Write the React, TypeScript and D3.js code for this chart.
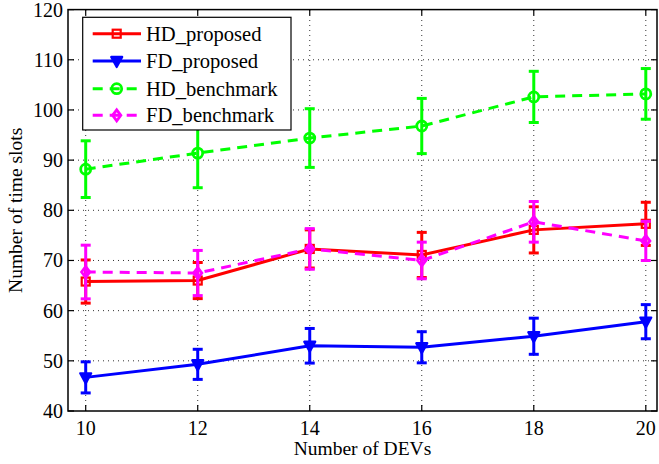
import React from "react";
import * as d3 from "d3";

const devs = [10, 12, 14, 16, 18, 20];
const hdProposed = [65.8, 66.0, 72.3, 71.1, 76.1, 77.3];
const hdProposedErr = [4.3, 3.6, 3.8, 4.5, 4.6, 4.3];
const fdProposed = [46.7, 49.3, 53.0, 52.7, 54.9, 57.8];
const fdProposedErr = [3.1, 3.0, 3.45, 3.1, 3.6, 3.4];
const hdBenchmark = [88.2, 91.4, 94.4, 96.8, 102.6, 103.2];
const hdBenchmarkErr = [5.65, 6.9, 5.85, 5.5, 5.1, 5.05];
const fdBenchmark = [67.7, 67.5, 72.3, 70.0, 77.7, 73.9];
const fdBenchmarkErr = [5.35, 4.5, 4.05, 3.65, 4.05, 3.9];

const xTicks = [10, 12, 14, 16, 18, 20];
const yTicks = [40, 50, 60, 70, 80, 90, 100, 110, 120];

type Series = {
  name: string;
  values: number[];
  err: number[];
  color: string;
  dashed: boolean;
  marker: "square" | "triangle" | "circle" | "diamond";
};

const series: Series[] = [
  { name: "HD_proposed", values: hdProposed, err: hdProposedErr, color: "#ff0000", dashed: false, marker: "square" },
  { name: "FD_proposed", values: fdProposed, err: fdProposedErr, color: "#0000ff", dashed: false, marker: "triangle" },
  { name: "HD_benchmark", values: hdBenchmark, err: hdBenchmarkErr, color: "#00ff00", dashed: true, marker: "circle" },
  { name: "FD_benchmark", values: fdBenchmark, err: fdBenchmarkErr, color: "#ff00ff", dashed: true, marker: "diamond" },
];

const W = 659;
const H = 464;
const L = 68;
const R = 657;
const T = 9.6;
const B = 411;

const FONT = "'Liberation Serif', 'Times New Roman', serif";

function Marker({ type, x, y, color }: { type: string; x: number; y: number; color: string }) {
  const sw = 2.2;
  if (type === "square") {
    return <rect x={x - 4} y={y - 4} width={8} height={8} fill="none" stroke={color} strokeWidth={sw} />;
  }
  if (type === "triangle") {
    const s = 5.5;
    return (
      <path
        d={`M${x - s},${y - s * 0.75}L${x + s},${y - s * 0.75}L${x},${y + s * 1.1}Z`}
        fill={color}
        stroke={color}
        strokeWidth={sw}
        strokeLinejoin="round"
      />
    );
  }
  if (type === "circle") {
    return <circle cx={x} cy={y} r={5} fill="none" stroke={color} strokeWidth={sw + 0.6} />;
  }
  const s = 5.5;
  return (
    <path
      d={`M${x},${y - s}L${x + s * 0.75},${y}L${x},${y + s}L${x - s * 0.75},${y}Z`}
      fill="none"
      stroke={color}
      strokeWidth={sw + 0.6}
    />
  );
}

export default function App() {
  const x = d3.scaleLinear().domain([9.684, 20.2]).range([L, R]);
  const y = d3.scaleLinear().domain([40, 120]).range([B, T]);
  const line = d3
    .line<number>()
    .x((_, i) => x(devs[i]))
    .y((d) => y(d));

  const legendX = 82.7;
  const legendY = 17.3;
  const legendW = 208.3;
  const legendH = 112.7;
  const rowY = [33.7, 61, 88.7, 115.3];

  return (
    <svg
      width={W}
      height={H}
      style={{ position: "absolute", left: 0, top: 0, background: "#fff" }}
      fontFamily={FONT}
    >
      <rect x={0} y={0} width={W} height={H} fill="#fff" />
      {/* grid */}
      <g stroke="#333" strokeWidth={1} strokeDasharray="1,4">
        {xTicks.map((t) => (
          <line key={"gx" + t} x1={x(t)} x2={x(t)} y1={B} y2={T} />
        ))}
        {yTicks.slice(1, -1).map((t) => (
          <line key={"gy" + t} x1={L} x2={R} y1={y(t)} y2={y(t)} />
        ))}
      </g>
      {/* ticks */}
      <g stroke="#000" strokeWidth={1.2}>
        {xTicks.map((t) => (
          <g key={"tx" + t}>
            <line x1={x(t)} x2={x(t)} y1={B} y2={B - 6} />
            <line x1={x(t)} x2={x(t)} y1={T} y2={T + 6} />
          </g>
        ))}
        {yTicks.map((t) => (
          <g key={"ty" + t}>
            <line x1={L} x2={L + 6} y1={y(t)} y2={y(t)} />
            <line x1={R} x2={R - 6} y1={y(t)} y2={y(t)} />
          </g>
        ))}
      </g>
      {/* series */}
      {series.map((s) => (
        <g key={s.name}>
          <path
            d={line(s.values) || ""}
            fill="none"
            stroke={s.color}
            strokeWidth={3}
            strokeDasharray={s.dashed ? "10,7" : undefined}
          />
          {s.values.map((v, i) => {
            const cx = x(devs[i]);
            const y1 = y(v + s.err[i]);
            const y2 = y(v - s.err[i]);
            return (
              <g key={i} stroke={s.color} strokeWidth={3}>
                <line x1={cx} x2={cx} y1={y1} y2={y2} />
                <line x1={cx - 5} x2={cx + 5} y1={y1} y2={y1} />
                <line x1={cx - 5} x2={cx + 5} y1={y2} y2={y2} />
              </g>
            );
          })}
          {s.values.map((v, i) => (
            <Marker key={"m" + i} type={s.marker} x={x(devs[i])} y={y(v)} color={s.color} />
          ))}
        </g>
      ))}
      {/* axes box */}
      <rect x={L} y={T} width={R - L} height={B - T} fill="none" stroke="#000" strokeWidth={1.5} />
      {/* tick labels */}
      <g fontSize={20} fill="#000">
        {xTicks.map((t) => (
          <text key={"lx" + t} x={x(t)} y={435} textAnchor="middle">
            {t}
          </text>
        ))}
        {yTicks.map((t) => (
          <text key={"ly" + t} x={63} y={y(t) + 7} textAnchor="end">
            {t}
          </text>
        ))}
      </g>
      <text x={(L + R) / 2} y={455} textAnchor="middle" fontSize={19.5} fill="#000">
        Number of DEVs
      </text>
      <text
        transform={`translate(22,${(T + B) / 2}) rotate(-90)`}
        textAnchor="middle"
        fontSize={19.5}
        fill="#000"
      >
        Number of time slots
      </text>
      {/* legend */}
      <rect x={legendX} y={legendY} width={legendW} height={legendH} fill="#fff" stroke="#000" strokeWidth={1.2} />
      {series.map((s, i) => (
        <g key={"leg" + s.name}>
          <line
            x1={92.7}
            x2={141}
            y1={rowY[i]}
            y2={rowY[i]}
            stroke={s.color}
            strokeWidth={3}
            strokeDasharray={s.dashed ? "10,7" : undefined}
          />
          <Marker type={s.marker} x={116.7} y={rowY[i]} color={s.color} />
          <text x={146} y={rowY[i] + 7} fontSize={20.6} fill="#000">
            {s.name}
          </text>
        </g>
      ))}
    </svg>
  );
}
